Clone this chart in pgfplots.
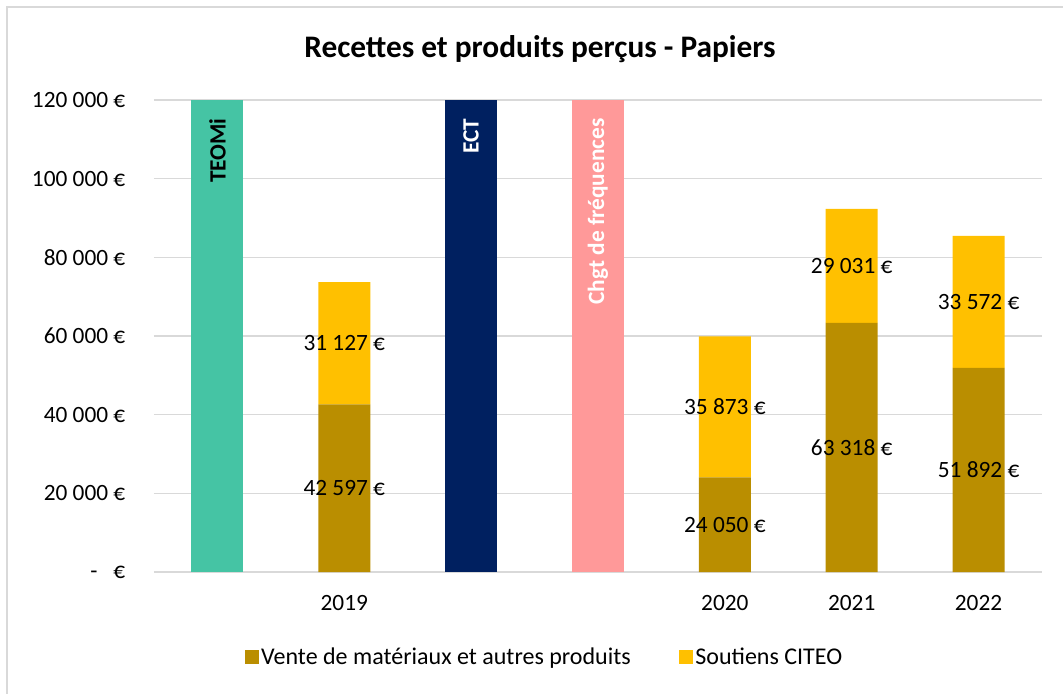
\documentclass[border=0pt]{standalone}
\usepackage{pgfplots}
\pgfplotsset{compat=1.18}
\usepackage{fontspec}
\setmainfont{Carlito}
\definecolor{teal1}{HTML}{45C4A4}
\definecolor{navy1}{HTML}{002060}
\definecolor{pink1}{HTML}{FF9999}
\definecolor{gold1}{HTML}{BA8E00}
\definecolor{yel1}{HTML}{FFC000}
\definecolor{grid1}{HTML}{D9D9D9}
\newcommand{\tf}{\fontsize{17.5}{20}\selectfont}
\begin{document}
\begin{tikzpicture}
\useasboundingbox (-115.5pt,-90.75pt) rectangle (681.75pt,429pt);
\draw[grid1, line width=1.5pt] (-110.25pt,-120pt) rectangle (700pt,423.75pt);
\begin{axis}[
  at={(0pt,0pt)}, anchor=south west,
  scale only axis, width=666pt, height=354pt,
  ybar stacked, bar width=39pt,
  xmin=-0.5, xmax=6.5, ymin=0, ymax=120000,
  xtick={0,1,2,3,4,5,6},
  xticklabels={,2019,,,2020,2021,2022},
  ytick={0,20000,40000,60000,80000,100000,120000},
  yticklabels={{-\hspace{12pt}€},{20 000 €},{40 000 €},{60 000 €},{80 000 €},{100 000 €},{120 000 €}},
  scaled y ticks=false,
  major tick length=0pt,
  ymajorgrids, grid style={grid1, line width=1.1pt},
  axis line style={draw=none},
  ticklabel style={font=\tf},
  yticklabel style={xshift=-18pt},
  xticklabel style={yshift=-14pt},
  legend style={at={(0.44,-0.18)}, anchor=center, draw=none, legend columns=2,
    font=\fontsize{18}{21}\selectfont, /tikz/every even column/.append style={column sep=34pt}},
  legend image code/.code={\draw[#1, draw=none] (0pt,-5.5pt) rectangle (10.5pt,5pt);},
  clip=false,
]
\addplot[fill=gold1, draw=none] coordinates {(0,0) (1,42597) (2,0) (3,0) (4,24050) (5,63318) (6,51892)};
\addlegendentry{Vente de matériaux et autres produits}
\addplot[fill=yel1, draw=none] coordinates {(0,0) (1,31127) (2,0) (3,0) (4,35873) (5,29031) (6,33572)};
\addlegendentry{Soutiens CITEO}
\addplot[fill=teal1, draw=none, forget plot] coordinates {(0,120000) (1,0) (2,0) (3,0) (4,0) (5,0) (6,0)};
\addplot[fill=navy1, draw=none, forget plot] coordinates {(0,0) (1,0) (2,120000) (3,0) (4,0) (5,0) (6,0)};
\addplot[fill=pink1, draw=none, forget plot] coordinates {(0,0) (1,0) (2,0) (3,120000) (4,0) (5,0) (6,0)};
\draw[grid1, line width=1.5pt] (axis cs:-0.5,0) -- (axis cs:6.5,0);
\coordinate (l1) at (axis cs:1,21298.5);
\coordinate (l2) at (axis cs:1,58160.5);
\coordinate (l3) at (axis cs:4,12025);
\coordinate (l4) at (axis cs:4,41986.5);
\coordinate (l5) at (axis cs:5,31659);
\coordinate (l6) at (axis cs:5,77833.5);
\coordinate (l7) at (axis cs:6,25946);
\coordinate (l8) at (axis cs:6,68678);
\coordinate (s0) at (axis cs:0,116500);
\coordinate (s2) at (axis cs:2,116500);
\coordinate (s3) at (axis cs:3,116500);
\end{axis}
\node[font=\tf] at (l1) {42 597 €};
\node[font=\tf] at (l2) {31 127 €};
\node[font=\tf] at (l3) {24 050 €};
\node[font=\tf] at (l4) {35 873 €};
\node[font=\tf] at (l5) {63 318 €};
\node[font=\tf] at (l6) {29 031 €};
\node[font=\tf] at (l7) {51 892 €};
\node[font=\tf] at (l8) {33 572 €};
\node[font=\bfseries\tf, rotate=90, anchor=east, text=black] at (s0) {TEOMi};
\node[font=\bfseries\tf, rotate=90, anchor=east, text=white] at (s2) {ECT};
\node[font=\bfseries\tf, rotate=90, anchor=east, text=white] at (s3) {Chgt de fréquences};
\node[font=\bfseries\fontsize{23.5}{27}\selectfont] at (289.5pt,392pt) {Recettes et produits perçus - Papiers};
\end{tikzpicture}
\end{document}
